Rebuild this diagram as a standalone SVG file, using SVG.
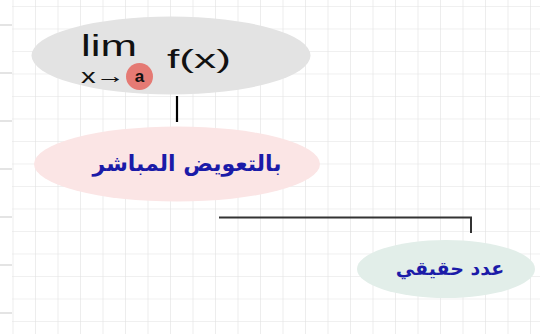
<svg xmlns="http://www.w3.org/2000/svg" width="540" height="334" viewBox="0 0 540 334">
<defs>
<pattern id="grid" x="12.5" y="6" width="22.5" height="22.5" patternUnits="userSpaceOnUse">
<path d="M0 0 V22.5 M0 0 H22.5" fill="none" stroke="#e2e2e2" stroke-width="1.2"/>
</pattern>
<style>
.conn{fill:none;stroke-linecap:butt}
.ar{font-family:"DejaVu Sans",sans-serif;fill:#1b1ba8;font-weight:bold}
.hand{font-family:"Liberation Sans",sans-serif;fill:#111}
</style>
</defs>
<rect width="540" height="334" fill="#ffffff"/>
<rect x="12" y="0" width="528" height="334" fill="url(#grid)"/>
<g id="margin" stroke="#dcdcdc" stroke-width="1.6">
<path d="M0 25 H12 M0 73 H12 M0 121 H12 M0 169 H12 M0 217 H12 M0 265 H12 M0 313 H12"/>
</g>
<g id="connectors">
<path class="conn" d="M177 96 V122" stroke="#000" stroke-width="2.2"/>
<path class="conn" d="M219 217.5 H471 V233" stroke="#333" stroke-width="2"/>
</g>
<g id="node-limit">
<ellipse cx="171" cy="55.5" rx="139.5" ry="39" fill="#e3e3e3"/>
<text class="hand" x="81" y="56" font-size="30" textLength="56" lengthAdjust="spacingAndGlyphs">lim</text>
<text class="hand" x="81" y="83" font-size="21" textLength="44" lengthAdjust="spacingAndGlyphs">x→</text>
<circle cx="139.5" cy="76.5" r="13.5" fill="#e57a74"/>
<text class="hand" x="139.5" y="82" font-size="17" font-weight="bold" text-anchor="middle">a</text>
<text class="hand" x="167" y="68" font-size="26" textLength="64" lengthAdjust="spacingAndGlyphs">f(x)</text>
</g>
<g id="node-substitution">
<ellipse cx="177" cy="164" rx="143" ry="37.5" fill="#fbe5e5"/>
<text class="ar" x="187" y="171" font-size="22" text-anchor="middle" direction="rtl">بالتعويض المباشر</text>
</g>
<g id="node-real">
<ellipse cx="446" cy="269" rx="89" ry="29" fill="#e2eee9"/>
<text class="ar" x="450" y="275" font-size="19" text-anchor="middle" direction="rtl">عدد حقيقي</text>
</g>
</svg>
